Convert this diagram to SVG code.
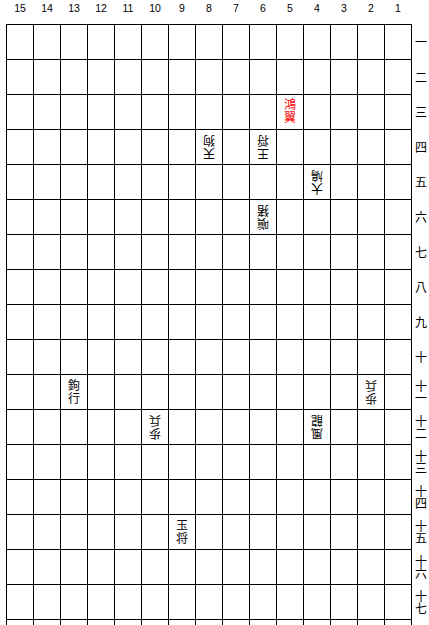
<svg xmlns="http://www.w3.org/2000/svg" width="429" height="625" viewBox="0 0 429 625">
<style>
.grid{stroke:#000;stroke-width:1;fill:none}
.col{font-family:"Liberation Sans",Arial,sans-serif;font-size:10.5px;text-anchor:middle;fill:#000}
.row{font-family:"Noto Sans CJK JP","Noto Sans CJK SC",sans-serif;font-size:12px;text-anchor:middle;fill:#000;writing-mode:vertical-rl}
.pc{font-family:"Noto Sans CJK JP","Noto Sans CJK SC",sans-serif;font-size:12px;text-anchor:middle;fill:#000;writing-mode:vertical-rl;letter-spacing:0.5px}
.red{fill:#ff0000}
</style>
<rect width="429" height="625" fill="#fff"/>
<g id="grid" class="grid">
<path d="M6.5 24V625M33.5 24V625M60.5 24V625M87.5 24V625M114.5 24V625M141.5 24V625M168.5 24V625M195.5 24V625M222.5 24V625M249.5 24V625M276.5 24V625M303.5 24V625M330.5 24V625M357.5 24V625M384.5 24V625M411.5 24V625"/>
<path d="M6 24.5H412M6 59.5H412M6 94.5H412M6 129.5H412M6 164.5H412M6 199.5H412M6 234.5H412M6 269.5H412M6 304.5H412M6 339.5H412M6 374.5H412M6 409.5H412M6 444.5H412M6 479.5H412M6 514.5H412M6 549.5H412M6 584.5H412M6 619.5H412"/>
</g>
<g id="column-labels" class="col">
<text x="20" y="12">15</text><text x="47" y="12">14</text><text x="74" y="12">13</text><text x="101" y="12">12</text><text x="128" y="12">11</text><text x="155" y="12">10</text><text x="182" y="12">9</text><text x="209" y="12">8</text><text x="236" y="12">7</text><text x="263" y="12">6</text><text x="290" y="12">5</text><text x="317" y="12">4</text><text x="344" y="12">3</text><text x="371" y="12">2</text><text x="398" y="12">1</text>
</g>
<g id="row-labels" class="row">
<text x="421" y="42">一</text>
<text x="421" y="77">二</text>
<text x="421" y="112">三</text>
<text x="421" y="147">四</text>
<text x="421" y="182">五</text>
<text x="421" y="217">六</text>
<text x="421" y="252">七</text>
<text x="421" y="287">八</text>
<text x="421" y="322">九</text>
<text x="421" y="357">十</text>
<text x="421" y="392">十一</text>
<text x="421" y="427">十二</text>
<text x="421" y="462">十三</text>
<text x="421" y="497">十四</text>
<text x="421" y="532">十五</text>
<text x="421" y="567">十六</text>
<text x="421" y="602">十七</text>
</g>
<g id="piece-5-3" class="pc red"><text x="290" y="111">鴻翼</text></g>
<g id="piece-8-4" class="pc" transform="rotate(180 209 147)"><text x="209" y="147">天狗</text></g>
<g id="piece-6-4" class="pc" transform="rotate(180 263 147)"><text x="263" y="147">王将</text></g>
<g id="piece-4-5" class="pc" transform="rotate(180 317 182)"><text x="317" y="182">大鳩</text></g>
<g id="piece-6-6" class="pc" transform="rotate(180 263 217)"><text x="263" y="217">嗔猪</text></g>
<g id="piece-13-11" class="pc"><text x="74" y="392">鉤行</text></g>
<g id="piece-2-11" class="pc" transform="rotate(180 371 392)"><text x="371" y="392">歩兵</text></g>
<g id="piece-10-12" class="pc" transform="rotate(180 155 427)"><text x="155" y="427">歩兵</text></g>
<g id="piece-4-12" class="pc" transform="rotate(180 317 427)"><text x="317" y="427">風龍</text></g>
<g id="piece-9-15" class="pc"><text x="182" y="532">玉将</text></g>
</svg>
